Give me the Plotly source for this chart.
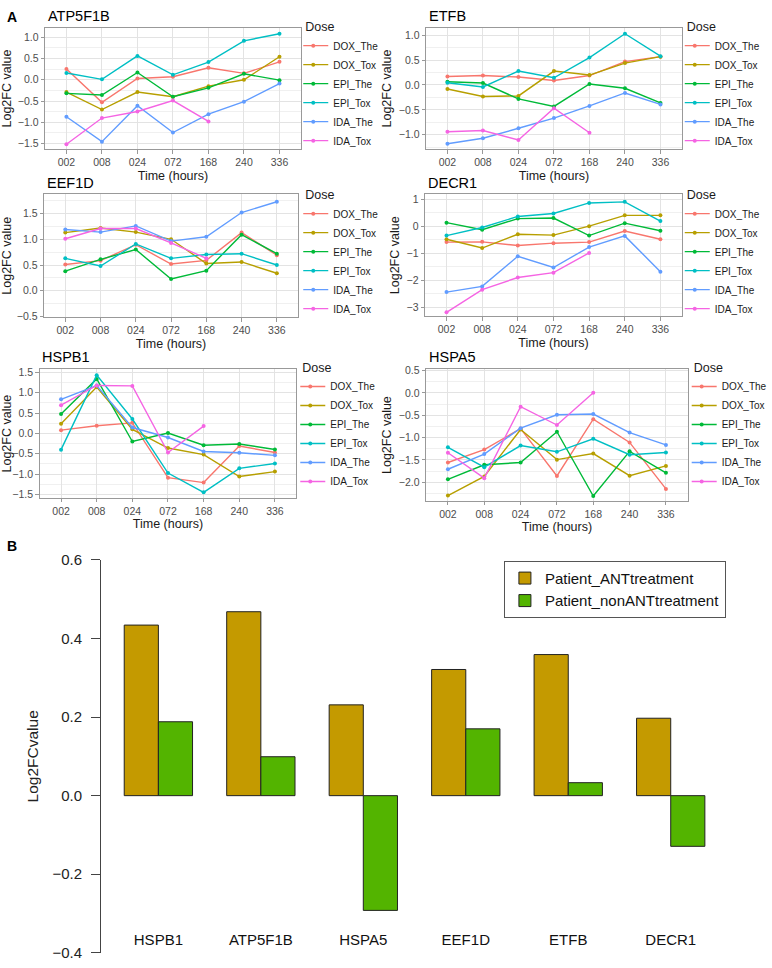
import plotly.graph_objects as go

W, H = 772, 968

# ---- panel A data: Log2FC by time point, one row per dose group ----
times = ["002", "008", "024", "072", "168", "240", "336"]
doses = ["DOX_The", "DOX_Tox", "EPI_The", "EPI_Tox", "IDA_The", "IDA_Tox"]
dose_colors = ["#F8766D", "#B79F00", "#00BA38", "#00BFC4", "#619CFF", "#F564E3"]

atp5f1b = [
    [0.25, -0.53, 0.03, 0.07, 0.28, 0.15, 0.42],
    [-0.29, -0.70, -0.29, -0.40, -0.15, 0.00, 0.54],
    [-0.32, -0.36, 0.17, -0.40, -0.19, 0.14, -0.01],
    [0.16, 0.01, 0.56, 0.115, 0.415, 0.915, 1.08],
    [-0.87, -1.455, -0.61, -1.24, -0.81, -0.515, -0.09],
    [-1.515, -0.90, -0.745, -0.49, -0.98, None, None],
]
etfb = [
    [0.17, 0.19, 0.16, 0.09, 0.19, 0.47, 0.57],
    [-0.08, -0.23, -0.22, 0.28, 0.20, 0.44, 0.57],
    [0.066, 0.04, -0.28, -0.43, 0.02, -0.066, -0.36],
    [0.046, -0.04, 0.28, 0.145, 0.55, 1.03, 0.58],
    [-1.18, -1.07, -0.87, -0.665, -0.42, -0.16, -0.39],
    [-0.94, -0.915, -1.105, -0.467, -0.96, None, None],
]
eef1d = [
    [0.51, 0.585, 0.895, 0.52, 0.59, 1.13, 0.69],
    [1.13, 1.22, 1.14, 1.00, 0.53, 0.56, 0.34],
    [0.38, 0.61, 0.80, 0.23, 0.39, 1.09, 0.72],
    [0.63, 0.48, 0.91, 0.63, 0.705, 0.72, 0.50],
    [1.19, 1.14, 1.26, 0.965, 1.05, 1.52, 1.73],
    [1.01, 1.21, 1.21, 0.93, 0.63, None, None],
]
decr1 = [
    [-0.59, -0.58, -0.715, -0.63, -0.59, -0.18, -0.485],
    [-0.485, -0.81, -0.30, -0.33, 0.00, 0.40, 0.40],
    [0.13, -0.13, 0.28, 0.30, -0.35, 0.11, -0.17],
    [-0.35, -0.05, 0.36, 0.47, 0.86, 0.90, 0.19],
    [-2.44, -2.23, -1.115, -1.53, -0.775, -0.36, -1.685],
    [-3.19, -2.35, -1.90, -1.72, -0.99, None, None],
]
hspb1 = [
    [0.08, 0.19, 0.26, -1.09, -1.21, -0.31, -0.47],
    [0.24, 1.145, 0.10, -0.36, -0.52, -1.06, -0.94],
    [0.48, 1.34, -0.20, 0.01, -0.29, -0.26, -0.395],
    [-0.40, 1.435, 0.355, -0.975, -1.45, -0.86, -0.74],
    [0.84, 1.18, 0.145, -0.10, -0.445, -0.475, -0.54],
    [0.695, 1.18, 1.17, -0.47, 0.18, None, None],
]
hspa5 = [
    [-1.56, -1.27, -0.80, -1.86, -0.59, -1.11, -2.15],
    [-2.30, -1.87, -0.82, -1.495, -1.36, -1.855, -1.635],
    [-1.935, -1.61, -1.56, -0.87, -2.31, -1.31, -1.79],
    [-1.22, -1.665, -1.18, -1.32, -1.03, -1.385, -1.335],
    [-1.71, -1.37, -0.79, -0.49, -0.475, -0.89, -1.165],
    [-1.34, -1.91, -0.31, -0.72, 0.00, None, None],
]

# ---- panel B data ----
genes_b = ["HSPB1", "ATP5F1B", "HSPA5", "EEF1D", "ETFB", "DECR1"]
ant_treatment = [0.434, 0.468, 0.231, 0.321, 0.359, 0.197]
non_ant_treatment = [0.188, 0.099, -0.292, 0.170, 0.033, -0.129]

FONT = "Liberation Sans, Arial, sans-serif"
FRAME = "#999999"


def px_x(v):
    return v / W


def px_y(v):
    return 1 - v / H


# title, values, plot box (left, top, right, bottom) px, y range, y dtick, legend (left, top) px
panels = [
    ("ATP5F1B", atp5f1b, (42.5, 19.3, 300.5, 142.7), [-1.632, 1.217], 0.5, (303, 6)),
    ("ETFB", etfb, (427.0, 19.3, 685.0, 142.7), [-1.29, 1.146], 0.5, (688, 6)),
    ("EEF1D", eef1d, (41.5, 188.7, 297.7, 313.7), [-0.514, 1.873], 0.5, (303, 177)),
    ("DECR1", decr1, (426.0, 188.7, 685.0, 312.7), [-3.333, 1.176], 1, (688, 177)),
    ("HSPB1", hspb1, (37.0, 366.7, 296.0, 497.7), [-1.589, 1.58], 0.5, (300, 353)),
    ("HSPA5", hspa5, (427.0, 366.7, 691.0, 500.7), [-2.419, 0.528], 0.5, (695, 353)),
]

fig = go.Figure()
layout = {}
annotations = []

for i, (gene, values, box, yr, dt, leg) in enumerate(panels, start=1):
    sfx = "" if i == 1 else str(i)
    lname = "legend" + sfx
    for dose, col, ys in zip(doses, dose_colors, values):
        fig.add_trace(go.Scatter(
            x=times, y=ys, name=dose, mode="lines+markers",
            line=dict(color=col, width=1.4),
            marker=dict(color=col, size=4),
            xaxis="x" + sfx, yaxis="y" + sfx, legend=lname,
            connectgaps=False,
        ))
    l, t, r, b = box
    layout["xaxis" + sfx] = dict(
        domain=[px_x(l), px_x(r)], anchor="y" + sfx,
        type="category", categoryorder="array", categoryarray=times,
        range=[-0.6, 6.6],
        showgrid=True, gridcolor="#E3E3E3", gridwidth=1,
        showline=True, mirror=True, linecolor=FRAME, linewidth=1,
        ticks="outside", ticklen=3.5, tickcolor=FRAME,
        tickfont=dict(size=10.5, color="#4D4D4D"),
        title=dict(text="Time (hours)", font=dict(size=12.5, color="#1A1A1A"), standoff=3),
        zeroline=False,
    )
    layout["yaxis" + sfx] = dict(
        domain=[px_y(b), px_y(t)], anchor="x" + sfx,
        range=yr, tick0=0, dtick=dt, tickformat=".1f" if dt < 1 else "d",
        showgrid=True, gridcolor="#E3E3E3", gridwidth=1,
        minor=dict(dtick=dt / 2, tick0=0, showgrid=True, gridcolor="#F0F0F0", gridwidth=0.6),
        showline=True, mirror=True, linecolor=FRAME, linewidth=1,
        ticks="outside", ticklen=3.5, tickcolor=FRAME,
        tickfont=dict(size=10.5, color="#4D4D4D"),
        title=dict(text="Log2FC value", font=dict(size=12.5, color="#1A1A1A"), standoff=4),
        zeroline=False,
    )
    layout[lname] = dict(
        x=px_x(leg[0]), y=px_y(leg[1]), xanchor="left", yanchor="top",
        title=dict(text="Dose", font=dict(size=12.5, color="#1A1A1A")),
        font=dict(size=10, color="#1A1A1A"),
        bgcolor="rgba(0,0,0,0)", indentation=-10,
    )
    annotations.append(dict(
        text=gene, x=px_x(l + 0.5), y=px_y(t - 12), xref="paper", yref="paper",
        xanchor="left", yanchor="middle", showarrow=False,
        font=dict(size=14.5, color="#000000"),
    ))

# ---- panel B: grouped bars ----
fig.add_trace(go.Bar(
    x=genes_b, y=ant_treatment, name="Patient_ANTtreatment",
    marker=dict(color="#C49A00", line=dict(color="#222222", width=1)),
    xaxis="x7", yaxis="y7", legend="legend7",
))
fig.add_trace(go.Bar(
    x=genes_b, y=non_ant_treatment, name="Patient_nonANTtreatment",
    marker=dict(color="#53B400", line=dict(color="#222222", width=1)),
    xaxis="x7", yaxis="y7", legend="legend7",
))

layout["xaxis7"] = dict(
    domain=[px_x(99), px_x(730.6)], anchor="free", position=px_y(936),
    range=[-0.559, 5.549], showline=False, ticks="", showgrid=False, zeroline=False,
    tickfont=dict(size=15, color="#111111"),
)
layout["yaxis7"] = dict(
    domain=[px_y(960.7), px_y(560.7)], anchor="x7",
    range=[-0.4, 0.6], dtick=0.2, tick0=0, tickformat=".1f",
    showline=True, linecolor="#444444", linewidth=1,
    ticks="outside", ticklen=9, tickcolor="#444444", ticklabelstandoff=6,
    tickfont=dict(size=15, color="#222222"),
    showgrid=False, zeroline=False,
    title=dict(text="Log2FCvalue", font=dict(size=15.5, color="#222222"), standoff=10),
)
layout["legend7"] = dict(
    x=px_x(505.5), y=px_y(561.7), xanchor="left", yanchor="top",
    bordercolor="#555555", borderwidth=1, bgcolor="#FFFFFF",
    font=dict(size=15, color="#111111"),
)

annotations.append(dict(text="<b>A</b>", x=px_x(2), y=px_y(8), xref="paper", yref="paper",
                        xanchor="left", yanchor="middle", showarrow=False,
                        font=dict(size=14, color="#000000")))
annotations.append(dict(text="<b>B</b>", x=px_x(2), y=px_y(547), xref="paper", yref="paper",
                        xanchor="left", yanchor="middle", showarrow=False,
                        font=dict(size=14, color="#000000")))

fig.update_layout(
    width=W, height=H,
    margin=dict(l=0, r=0, t=0, b=0),
    paper_bgcolor="white", plot_bgcolor="white",
    font=dict(family=FONT),
    barmode="group", bargap=1 / 3, bargroupgap=0,
    annotations=annotations,
    **layout,
)

# drop the browser's default page margin so the figure sits at the window origin
fig.write_html(
    "out.html",
    config={"displayModeBar": False},
    post_script="document.body.style.margin='0';document.body.style.overflow='hidden';",
)
